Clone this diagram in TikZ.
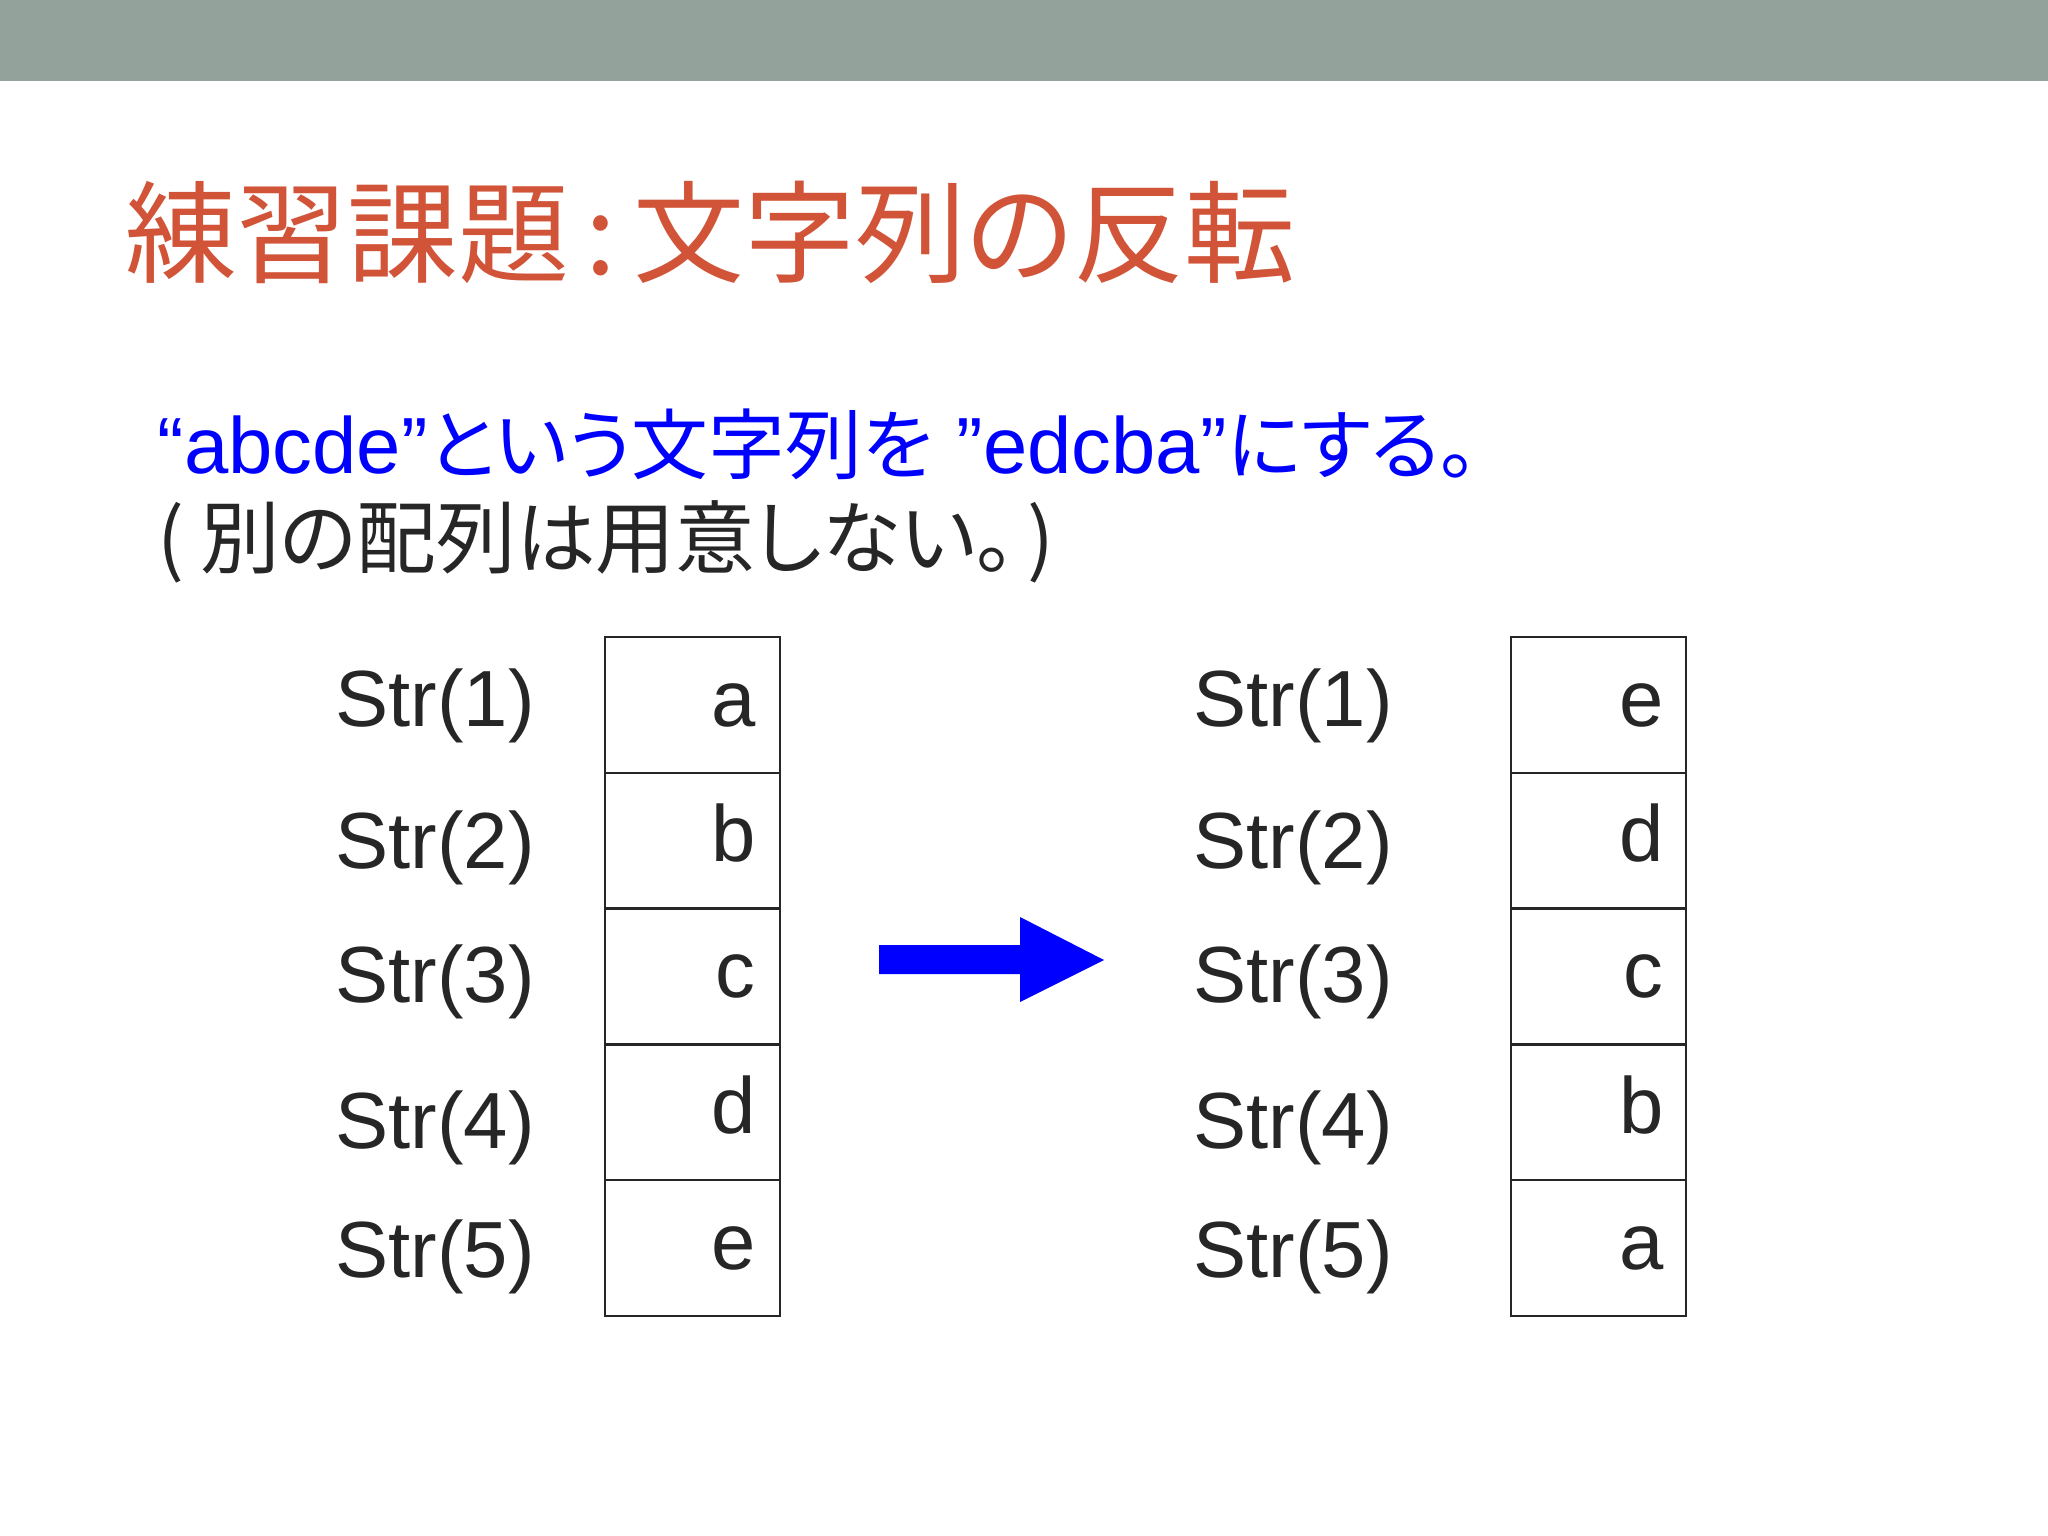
\documentclass[tikz,border=0pt]{standalone}
\usepackage{fontspec}
\setmainfont{Liberation Sans}
\newfontfamily\jp[RawFeature=+palt]{Noto Sans CJK JP}
\definecolor{barcol}{RGB}{147,163,155}
\definecolor{titlecol}{RGB}{209,84,56}
\definecolor{inkcol}{RGB}{38,38,38}
\tikzset{
  cellbox/.style={draw=inkcol, line width=0.8pt},
  idxtxt/.style={anchor=base west, inner sep=0pt, text=inkcol, font=\fontsize{28}{34}\selectfont},
  celltxt/.style={anchor=base east, inner sep=0pt, text=inkcol, font=\fontsize{28}{34}\selectfont},
}

\begin{document}
\begin{tikzpicture}[x=0.3515625pt,y=0.3515625pt,yscale=-1,xscale=1]
\useasboundingbox (0,0) rectangle (2048,1536);
\fill[white] (0,0) rectangle (2048,1536);

%Top bar
\fill[barcol] (0,0) rectangle (2048,81);

% Text Node
\node[anchor=base west, inner sep=0pt, text=titlecol, font=\jp\fontsize{39}{47}\selectfont] (title) at (125,275) {練習課題\hspace{0.15em}:\hspace{0.15em}文字列の反転};
% Text Node
\node[anchor=base west, inner sep=0pt, text=blue, font=\fontsize{28}{34}\selectfont] (task) at (157,474) {“abcde”{\jp\fontsize{27}{34}\selectfont という文字列を}\hspace{0.3em}”edcba”{\jp\fontsize{27}{34}\selectfont にする。}};
% Text Node
\node[anchor=base west, inner sep=0pt, text=inkcol, font=\jp\fontsize{28}{34}\selectfont] (note) at (157,568) {(\hspace{0.2em}別の配列は用意しない。\hspace{0.15em})};

%Left array
\foreach \ch [count=\i] in {a,b,c,d,e} {
  \draw[cellbox] (605,{637+135.8*(\i-1)}) rectangle ++(175,135.8);
  \node[celltxt] (l\i) at (756,{637+135.8*(\i-1)+89}) {\ch};
}
%Right array
\foreach \ch [count=\i] in {e,d,c,b,a} {
  \draw[cellbox] (1511,{637+135.8*(\i-1)}) rectangle ++(175,135.8);
  \node[celltxt] (r\i) at (1664,{637+135.8*(\i-1)+89}) {\ch};
}
%Index labels
\foreach \n/\yb in {1/727,2/868,3/1002,4/1148,5/1277} {
  \node[idxtxt] (ls\n) at (335,\yb) {Str(\n)};
  \node[idxtxt] (rs\n) at (1193,\yb) {Str(\n)};
}

%Block arrow
\fill[blue] (879,945) -- (1020,945) -- (1020,917) -- (1104,960) -- (1020,1002) -- (1020,974) -- (879,974) -- cycle;
\end{tikzpicture}
\end{document}
